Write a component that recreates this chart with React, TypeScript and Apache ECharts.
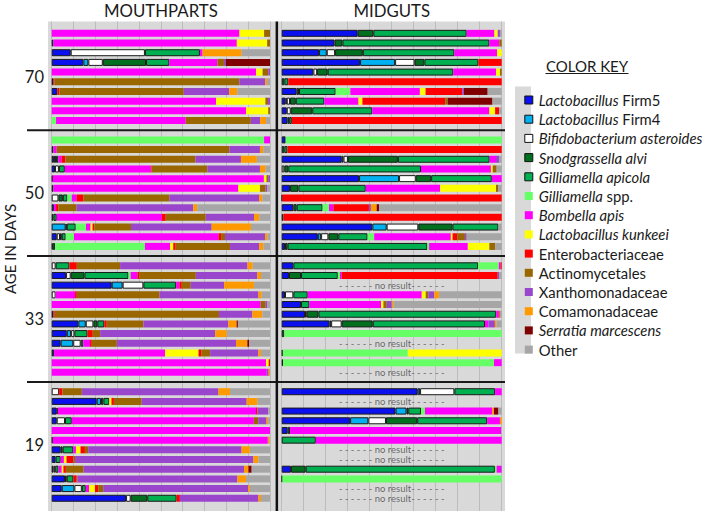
import React, { useEffect, useRef } from 'react';
import * as echarts from 'echarts';

type Row = Record<string, number> | null;

const TAXA = [
  'Lactobacillus Firm5', 'Lactobacillus Firm4', 'Bifidobacterium asteroides', 'Snodgrassella alvi',
  'Gilliamella apicola', 'Gilliamella spp.', 'Bombella apis', 'Lactobacillus kunkeei',
  'Enterobacteriaceae', 'Actinomycetales', 'Xanthomonadaceae', 'Comamonadaceae',
  'Serratia marcescens', 'Other',
];
const KEYS = ['F5', 'F4', 'B', 'S', 'G', 'GS', 'BA', 'K', 'E', 'A', 'X', 'C', 'SM', 'O'];
const COLORS = [
  '#0a10ee', '#00b0f0', '#ffffff', '#00701e', '#00b050', '#66ff66', '#ff00ff', '#ffff00',
  '#ff0000', '#996600', '#9a46cc', '#ff9900', '#800000', '#a6a6a6',
];
const CORE = ['F5', 'F4', 'B', 'S', 'G'];
const LEGEND_TEXT: Record<string, string> = {
  'Lactobacillus Firm5': '{i|Lactobacillus} {n|Firm5}',
  'Lactobacillus Firm4': '{i|Lactobacillus} {n|Firm4}',
  'Bifidobacterium asteroides': '{i|Bifidobacterium asteroides}',
  'Snodgrassella alvi': '{i|Snodgrassella alvi}',
  'Gilliamella apicola': '{i|Gilliamella apicola}',
  'Gilliamella spp.': '{i|Gilliamella} {n|spp.}',
  'Bombella apis': '{i|Bombella apis}',
  'Lactobacillus kunkeei': '{i|Lactobacillus kunkeei}',
  'Enterobacteriaceae': '{n|Enterobacteriaceae}',
  'Actinomycetales': '{n|Actinomycetales}',
  'Xanthomonadaceae': '{n|Xanthomonadaceae}',
  'Comamonadaceae': '{n|Comamonadaceae}',
  'Serratia marcescens': '{i|Serratia marcescens}',
  'Other': '{n|Other}',
};
const AGE_LABELS = ['70', '50', '33', '19'];
const PANEL_TITLES = ['MOUTHPARTS', 'MIDGUTS'];
const Y_TITLE = 'AGE IN DAYS';
const KEY_TITLE = 'COLOR KEY';
const NO_RESULT = '- - - - - - no result- - - - - -';

// ---- MOUTHPARTS ----
const mouth70: Row[] = [
  { BA: 86, K: 11.3, A: 2.7 },
  { F5: 0.8, BA: 84, K: 13.9, A: 1.3 },
  { F5: 8.7, B: 34, G: 25.2, BA: 1.2, C: 17.9, O: 13 },
  { F5: 14.5, F4: 2.3, B: 6.6, S: 19.8, G: 10.7, BA: 22, A: 3, X: 0.8, SM: 20.3 },
  { BA: 93.6, K: 3, A: 2.6, X: 0.8 },
  { F5: 0.8, E: 0.5, A: 85, X: 11.9, C: 0.8, O: 1.4 },
  { F5: 2.6, E: 0.9, A: 57, X: 20.8, C: 3.7, O: 15 },
  { BA: 75.3, K: 22.6, A: 1.2, X: 0.9 },
  { BA: 89, K: 10.2, A: 0.8 },
  { GS: 2, BA: 59.4, A: 29.8, X: 4.3, C: 2.7, O: 1.8 },
];
const mouth50: Row[] = [
  { GS: 97.3, BA: 2.7 },
  { F5: 0.8, BA: 1.5, A: 79, X: 14, C: 1.5, O: 3.1 },
  { F5: 1, S: 1, G: 1, BA: 1.5, E: 1.8, A: 59.5, X: 20.8, C: 7.3, O: 6 },
  { F5: 1.5, B: 1.8, G: 2.7, BA: 39.4, E: 0.3, A: 25.5, X: 24.1, C: 2.6, O: 2 },
  { F5: 0.5, BA: 96.8, K: 1.2, A: 0.8, X: 0.8 },
  { F5: 0.8, BA: 84.7, K: 9.9, A: 2.6, X: 0.8, O: 1.2 },
  { B: 3.1, S: 2, G: 2.1, GS: 2, BA: 2.3, E: 3.1, A: 39.4, X: 41.1, C: 1.5, O: 3.5 },
  { F5: 1, BA: 1, E: 1, A: 8.4, X: 53.4, C: 1.8, O: 33.3 },
  { S: 0.8, G: 1.5, BA: 48.1, E: 1.8, A: 18.3, X: 22.1, C: 2.4, O: 4.9 },
  { F4: 6.4, S: 0.5, G: 4.1, GS: 4.7, BA: 2.1, K: 0.9, E: 0.8, A: 16.8, X: 36.9, C: 18, O: 8.7 },
  { F5: 2.3, B: 1.5, S: 0.8, G: 1.8, GS: 3.8, BA: 66.1, E: 1.2, A: 1.8, X: 18.3, C: 1.1, O: 1.2 },
  { S: 0.5, G: 1, GS: 41.2, BA: 11.5, K: 1.5, E: 1.1, A: 24.9, X: 13.3, C: 2, O: 3 },
];
const mouth33: Row[] = [
  { B: 1.8, G: 6.3, E: 3.4, A: 19.8, X: 58.3, C: 2.4, O: 7.9 },
  { F5: 6.6, B: 2.1, S: 6.3, G: 20.2, GS: 1, BA: 3.1, E: 0.8, A: 26, X: 28.2, C: 1.7, O: 4.1 },
  { F5: 27.5, F4: 5, B: 9.5, G: 15, BA: 1.5, E: 1.1, A: 4.1, X: 15.3, C: 13.7, O: 7.3 },
  { B: 1.8, BA: 8.9, E: 0.8, A: 37.9, X: 45.3, C: 1.5, O: 3.8 },
  { BA: 95.7, A: 2.3, X: 0.8, O: 1.2 },
  { F5: 0.8, E: 0.6, A: 75.3, X: 15.3, C: 4.6, O: 3.5 },
  { F5: 12.2, F4: 3.4, B: 3.5, S: 1.8, G: 3.2, E: 1.1, A: 16.8, X: 38.9, C: 3.8, SM: 0.6, O: 14.7 },
  { F5: 6.9, F4: 2, B: 1.5, G: 6, E: 2.4, A: 3.4, X: 52.7, C: 5.3, O: 19.8 },
  { F5: 4.1, F4: 5.8, B: 3.4, G: 1.2, BA: 3.1, E: 0.8, A: 11.5, X: 54.7, C: 5.2, SM: 0.9, O: 9.5 },
  { F5: 1.1, BA: 50.8, K: 15.3, E: 1.2, A: 4.1, X: 22.1, C: 1.2, O: 4.1 },
  { BA: 98.2, K: 1.2, E: 0.6 },
  { BA: 98.5, X: 0.9, C: 0.6 },
];
const mouth19: Row[] = [
  { B: 3.4, E: 1.5, A: 8.9, X: 62.6, C: 5.3, O: 18.3 },
  { F5: 20.6, F4: 2, S: 1.1, G: 2.7, K: 1, E: 1.1, A: 12.7, X: 48.1, C: 5, O: 5.7 },
  { F5: 2.3, S: 0.5, BA: 90.8, E: 0.6, X: 5, O: 0.8 },
  { F5: 2.3, B: 3.8, G: 3.1, BA: 83.5, A: 2, X: 3.8, C: 0.8, O: 0.8 },
  { BA: 100 },
  { F5: 0.5, BA: 98.5, C: 0.8, O: 0.2 },
  { F5: 4.1, S: 0.9, G: 4.9, BA: 1.2, K: 2.1, E: 2, A: 1.5, X: 70.2, C: 3.8, O: 9.2 },
  { F5: 1.8, G: 2.3, BA: 1.5, K: 1.2, E: 3.1, A: 0.8, X: 81.7, C: 2.3, O: 5.3 },
  { F5: 0.8, B: 0.8, G: 1.5, BA: 1.5, K: 0.8, E: 1.1, A: 8.1, X: 73.6, C: 2, SM: 1.5, O: 8.4 },
  { F5: 6.1, S: 0.8, G: 3.1, E: 1.5, A: 0.3, X: 73.6, C: 4, O: 11 },
  { F5: 4.6, F4: 5.8, B: 3.4, G: 1.8, BA: 1.5, K: 2.7, E: 1.5, A: 2.3, X: 66.4, C: 0.8, O: 9.2 },
  { F5: 34, B: 2.1, S: 7.6, G: 13.4, E: 1.5, X: 35.9, C: 1.2, O: 4.1 },
];

// ---- MIDGUTS ----
const mid70: Row[] = [
  { F5: 34.5, S: 7.1, G: 42.4, BA: 12.6, K: 1.5, X: 1, O: 0.8 },
  { F5: 24, S: 3.6, G: 66.8, BA: 4.5, A: 1.1 },
  { F5: 17, F4: 3.5, B: 3.8, S: 12.6, G: 41.7, BA: 19.4, K: 2.1 },
  { F5: 35.6, F4: 15.9, B: 8.8, S: 4.5, G: 24.5, E: 10.6 },
  { F5: 14.4, B: 1.7, S: 4.8, G: 57.1, BA: 19.4, K: 1.8, A: 0.8 },
  { S: 1.2, G: 1.8, E: 97 },
  { F5: 6.8, S: 1.1, G: 16.7, GS: 6.7, BA: 31.7, K: 2.6, E: 16.7, X: 0.8, SM: 10.8, O: 6.4 },
  { F5: 1.8, F4: 0.5, B: 1.5, S: 2.6, G: 13, BA: 15.5, K: 1.8, E: 37.6, A: 1.2, SM: 20.3, O: 4.2 },
  { F5: 2.3, B: 1.8, S: 9.8, G: 27.3, BA: 53.2, K: 2.6, E: 1.8, O: 1.2 },
  { F5: 2.6, S: 0.8, G: 1.2, E: 95.4 },
];
const mid50: Row[] = [
  { F5: 1.8, GS: 98.2 },
  { S: 1.2, G: 1.4, E: 97.4 },
  { F5: 27.3, F4: 0.8, B: 2, S: 22.7, G: 41.7, BA: 2.9, X: 1.6, O: 1 },
  { B: 1.2, S: 1.8, G: 60.3, BA: 31.8, K: 0.8, A: 1.8, O: 2.3 },
  { F5: 35.2, F4: 18.2, B: 7.6, S: 7, G: 27.6, BA: 4.5 },
  { F5: 3.8, S: 3.8, G: 30.6, BA: 33.8, K: 25.4, A: 1.1, O: 1.5 },
  { F5: 0.3, E: 99.7 },
  { F5: 5.3, S: 1.5, G: 11.8, GS: 2.9, BA: 2, E: 16.2, X: 0.9, C: 2.6, SM: 1.1, O: 55.8 },
  { S: 0.8, E: 99.2 },
  { F5: 41.2, F4: 6.5, B: 14.4, S: 15.5, G: 20.9, O: 1.5 },
  { F5: 16.4, F4: 1.5, B: 3.3, S: 4.5, G: 13.3, GS: 3, BA: 34.8, K: 0.8, E: 2.1, A: 3.5, X: 0.8, O: 15.9 },
  { F5: 1.5, S: 1.2, G: 63.5, GS: 0.8, BA: 17.6, K: 9.8, A: 2.6, O: 3 },
];
const mid33: Row[] = [
  { F5: 5.3, G: 84.1, GS: 9.4, BA: 0.8, E: 0.5 },
  { F5: 3.3, S: 5.5, G: 16.7, GS: 1, BA: 0.8, E: 70.9, X: 0.6, O: 1.2 },
  null,
  { F5: 1.5, B: 3.8, G: 6.5, BA: 51.8, K: 1.8, A: 1.2, X: 2.7, C: 2.1, O: 28.5 },
  { F5: 8.8, G: 3.8, BA: 32.6, K: 1.1, A: 1.5, X: 2.3, C: 0.8, O: 49.2 },
  { F5: 10.6, B: 0.8, S: 5.3, G: 80.8, BA: 1.1, E: 0.5, O: 0.9 },
  { F5: 21.7, F4: 0.8, B: 4.8, S: 14.1, G: 51.1, BA: 1.5, X: 3, C: 0.8, O: 2.3 },
  { S: 1.2, GS: 98.8 },
  null,
  { F5: 0.5, GS: 56.8, K: 42.7 },
  { F5: 0.6, GS: 95.9, BA: 3.5 },
  null,
];
const mid19: Row[] = [
  { F5: 61.8, F4: 1.1, B: 15.6, G: 18.5, BA: 3 },
  null,
  { F5: 51.8, F4: 5, S: 0.8, G: 5.8, GS: 1.8, BA: 30.6, C: 0.8, SM: 2, O: 1.5 },
  { F5: 31.1, F4: 8.3, B: 8, S: 14.2, G: 31.8, BA: 5.8, C: 0.8 },
  { F5: 2.7, S: 1.1, BA: 95.9, O: 0.3 },
  { G: 15.5, BA: 84.5 },
  null,
  null,
  { F5: 4.2, S: 6.7, G: 86.1, GS: 0.8, BA: 2, X: 0.3 },
  { F5: 0.3, GS: 99.7 },
  null,
  null,
];

const PANELS: Row[][][] = [
  [mouth70, mouth50, mouth33, mouth19],
  [mid70, mid50, mid33, mid19],
];

type Slot = Row | 'gap';
function buildSlots(groups: Row[][]): Slot[] {
  const s: Slot[] = [];
  groups.forEach((g, i) => {
    if (i > 0) s.push('gap');
    g.forEach((r) => s.push(r));
  });
  return s;
}
const SLOTS = PANELS.map(buildSlots);
const SLOT_NAMES = SLOTS[0].map((_, i) => 's' + i);

const FONT = 'Lato';
const TXT = '#1a1a1a';
const GL = [51.7, 281.7];
const GW = [218.3, 220];
const DATA_TOP = 28.5;
const DATA_H = 474.6;
const BG_TOP = 21.5;
const BG_BOTTOM = 511;
const BG_LEFT = 48;
const BG_RIGHT = 505;
const LEG_FS = 14.8;

function pct(row: Row, key: string): number | string {
  if (!row || !row[key]) return '-';
  const total = KEYS.reduce((a, k) => a + (row[k] || 0), 0);
  return +((row[key] / total) * 100).toFixed(3);
}

function buildOption(): any {
  const grids: any[] = [];
  const xAxes: any[] = [];
  const yAxes: any[] = [];
  for (let p = 0; p < 2; p++) {
    grids.push({ left: GL[p], width: GW[p], top: BG_TOP, height: BG_BOTTOM - BG_TOP, containLabel: false });
    xAxes.push({
      gridIndex: p, type: 'value', min: 0, max: 100, interval: 10,
      axisLine: { show: false }, axisTick: { show: false }, axisLabel: { show: false },
      splitLine: { show: true, lineStyle: { color: '#bcbcbc', width: 1 } },
    });
    yAxes.push({ gridIndex: p, type: 'value', min: 0, max: 1, show: false, splitLine: { show: false } });
  }
  for (let p = 0; p < 2; p++) {
    grids.push({ left: GL[p], width: GW[p], top: DATA_TOP, height: DATA_H, containLabel: false });
    xAxes.push({ gridIndex: 2 + p, type: 'value', min: 0, max: 100, show: false, splitLine: { show: false } });
    yAxes.push({ gridIndex: 2 + p, type: 'category', inverse: true, data: SLOT_NAMES, show: false });
  }
  const series: any[] = [];
  for (let p = 0; p < 2; p++) {
    KEYS.forEach((k, ki) => {
      const core = CORE.includes(k);
      series.push({
        type: 'bar', name: TAXA[ki], stack: 'p' + p, xAxisIndex: 2 + p, yAxisIndex: 2 + p,
        barWidth: 7,
        itemStyle: { color: COLORS[ki], borderColor: core ? '#1a1a1a' : COLORS[ki], borderWidth: core ? 1 : 0 },
        emphasis: { disabled: true },
        data: SLOTS[p].map((s) => (s === 'gap' ? '-' : pct(s, k))),
      });
    });
  }
  for (let p = 0; p < 2; p++) {
    const nr: any[] = [];
    SLOTS[p].forEach((s, i) => { if (s === null) nr.push([50, SLOT_NAMES[i]]); });
    if (nr.length) {
      series.push({
        type: 'scatter', name: 'noresult', xAxisIndex: 2 + p, yAxisIndex: 2 + p,
        symbolSize: 1, itemStyle: { color: 'rgba(0,0,0,0)' }, silent: true,
        label: { show: true, position: 'inside', formatter: NO_RESULT, fontFamily: FONT, fontSize: 9.5, color: '#4a4a4a' },
        data: nr,
      });
    }
  }
  return {
    animation: false,
    backgroundColor: '#ffffff',
    grid: grids, xAxis: xAxes, yAxis: yAxes, series,
    legend: {
      orient: 'vertical', left: 519.3, top: 85.4, itemWidth: 8, itemHeight: 8, itemGap: 0,
      icon: 'rect', selectedMode: false,
      data: TAXA.map((t, i) => ({
        name: t,
        itemStyle: CORE.includes(KEYS[i]) ? { borderColor: '#111', borderWidth: 1 } : { borderWidth: 0 },
      })),
      formatter: (n: string) => LEGEND_TEXT[n] || n,
      textStyle: {
        fontFamily: FONT, fontSize: LEG_FS, color: TXT, lineHeight: 19.2, padding: [0, 0, 0, 1],
        rich: {
          i: { fontFamily: FONT, fontSize: LEG_FS, fontStyle: 'italic', color: TXT, lineHeight: 19.2 },
          n: { fontFamily: FONT, fontSize: LEG_FS, color: TXT, lineHeight: 19.2 },
        },
      },
    },
  };
}

function buildGraphic(chart: any): any[] {
  const y = (i: number) => chart.convertToPixel({ yAxisIndex: 2 }, SLOT_NAMES[i]) as number;
  const xl0 = chart.convertToPixel({ xAxisIndex: 2 }, 50) as number;
  const xr0 = chart.convertToPixel({ xAxisIndex: 3 }, 50) as number;
  const xlEnd = chart.convertToPixel({ xAxisIndex: 2 }, 100) as number;
  const xrStart = chart.convertToPixel({ xAxisIndex: 3 }, 0) as number;
  const els: any[] = [];
  els.push({ type: 'rect', z: -10, silent: true, shape: { x: BG_LEFT, y: BG_TOP, width: BG_RIGHT - BG_LEFT, height: BG_BOTTOM - BG_TOP }, style: { fill: '#d9d9d9' } });
  const slots = SLOTS[0];
  const groupRanges: [number, number][] = [];
  let start = 0;
  slots.forEach((s, i) => {
    if (s === 'gap') {
      groupRanges.push([start, i - 1]);
      start = i + 1;
      els.push({ type: 'line', z: 20, silent: true, shape: { x1: 27, y1: y(i), x2: BG_RIGHT, y2: y(i) }, style: { stroke: '#1a1a1a', lineWidth: 2 } });
    }
  });
  groupRanges.push([start, slots.length - 1]);
  const dx = (xlEnd + xrStart) / 2 + 1;
  els.push({ type: 'line', z: 20, silent: true, shape: { x1: dx, y1: BG_TOP, x2: dx, y2: BG_BOTTOM }, style: { stroke: '#111', lineWidth: 2.5 } });
  groupRanges.forEach((r, gi) => {
    const cy = (y(r[0]) + y(r[1])) / 2;
    els.push({ type: 'text', z: 20, silent: true, x: 44, y: cy, style: { text: AGE_LABELS[gi], fontFamily: FONT, fontSize: 16.5, fill: TXT, align: 'right', verticalAlign: 'middle' } });
  });
  [xl0, xr0].forEach((cx, i) => {
    els.push({ type: 'text', z: 20, silent: true, x: cx, y: 10.5, style: { text: PANEL_TITLES[i], fontFamily: FONT, fontSize: 16.8, fill: TXT, align: 'center', verticalAlign: 'middle' } });
  });
  els.push({ type: 'text', z: 20, silent: true, x: 10, y: 249, rotation: Math.PI / 2, style: { text: Y_TITLE, fontFamily: FONT, fontSize: 15, fill: TXT, align: 'center', verticalAlign: 'middle' } });
  els.push({ type: 'text', z: 20, silent: true, x: 587, y: 65.5, style: { text: KEY_TITLE, fontFamily: FONT, fontSize: 15, fill: TXT, align: 'center', verticalAlign: 'middle' } });
  els.push({ type: 'line', z: 20, silent: true, shape: { x1: 545.5, y1: 73.5, x2: 628.5, y2: 73.5 }, style: { stroke: TXT, lineWidth: 1 } });
  els.push({ type: 'rect', z: -10, silent: true, shape: { x: 515, y: 86.5, width: 16, height: 267 }, style: { fill: '#d9d9d9' } });
  return els;
}

export default function App() {
  const ref = useRef<HTMLDivElement>(null);
  useEffect(() => {
    const chart = echarts.init(ref.current!, null, { renderer: 'svg' });
    chart.setOption(buildOption());
    chart.setOption({ graphic: buildGraphic(chart) });
    return () => chart.dispose();
  }, []);
  return <div ref={ref} style={{ position: 'absolute', left: 0, top: 0, width: 708, height: 515 }} />;
}
